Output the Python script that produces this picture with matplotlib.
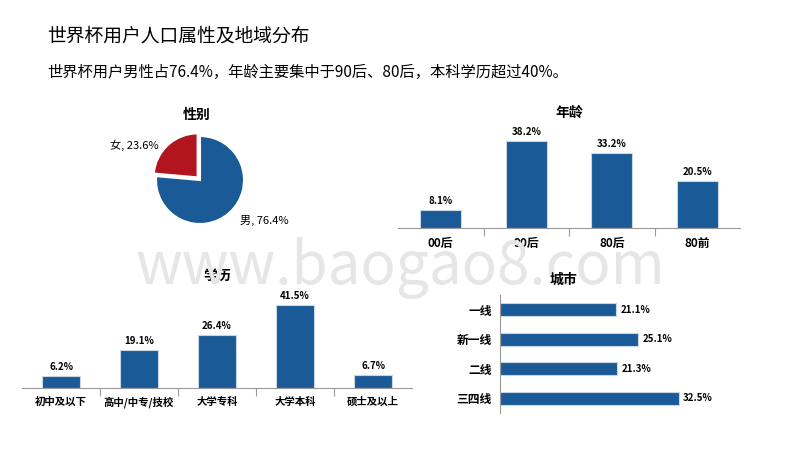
import matplotlib.pyplot as plt
from matplotlib import font_manager

cjk = [f.name for f in font_manager.fontManager.ttflist if 'CJK' in f.name]
plt.rcParams['font.family'] = ['Noto Sans CJK SC', 'Noto Sans CJK JP'] + sorted(set(cjk)) + ['DejaVu Sans']

# data
gender_labels = ['女', '男']
gender_values = [23.6, 76.4]
age_labels = ['00后', '90后', '80后', '80前']
age_values = [8.1, 38.2, 33.2, 20.5]
edu_labels = ['初中及以下', '高中/中专/技校', '大学专科', '大学本科', '硕士及以上']
edu_values = [6.2, 19.1, 26.4, 41.5, 6.7]
city_labels = ['一线', '新一线', '二线', '三四线']
city_values = [21.1, 25.1, 21.3, 32.5]

blue = '#1a5b97'
red = '#b3151e'

fig = plt.figure(figsize=(8, 4.5), dpi=100)
W, H = 800, 450


def ax_px(x0, y0, x1, y1):
    return fig.add_axes([x0 / W, 1 - y1 / H, (x1 - x0) / W, (y1 - y0) / H])


fig.text(47 / W, 1 - 36 / H, '世界杯用户人口属性及地域分布', fontsize=13.5, va='center')
fig.text(47 / W, 1 - 72 / H, '世界杯用户男性占76.4%，年龄主要集中于90后、80后，本科学历超过40%。',
         fontsize=11, va='center')

# watermark
fig.text(0.5, 1 - 268 / H, 'www.baogao8.com', fontsize=42, color='#e6e6e6',
         ha='center', va='center', zorder=0)

# gender pie
ax = ax_px(145, 125, 255, 235)
ax.pie(gender_values, colors=[red, blue], startangle=90, explode=[0.08, 0],
       wedgeprops=dict(edgecolor='white', linewidth=1.5))
ax.set_aspect('equal')
ax.text(-0.95, 0.78, '女, 23.6%', ha='right', va='center', fontsize=8)
ax.text(0.9, -0.92, '男, 76.4%', ha='left', va='center', fontsize=8)
fig.text(197 / W, 1 - 115 / H, '性别', ha='center', va='center', fontsize=10, weight='bold')


def bar_axes(ax, labels, values, title, ymax, labsize):
    x = range(len(labels))
    ax.bar(x, values, width=0.48, color=blue, edgecolor='#c8d6e5', linewidth=0.8)
    for i, v in zip(x, values):
        ax.text(i, v + ymax * 0.04, f'{v}%', ha='center', va='bottom', fontsize=7, weight='bold')
    ax.set_xlim(-0.5, len(labels) - 0.5)
    ax.set_ylim(0, ymax)
    ax.set_yticks([])
    ax.set_xticks([i + 0.5 for i in range(len(labels) - 1)])
    ax.set_xticklabels([])
    ax.tick_params(axis='x', length=6, color='#999999')
    for i, lab in enumerate(labels):
        ax.text(i, -ymax * 0.09, lab, ha='center', va='top', fontsize=labsize, weight='bold')
    for s in ['top', 'left', 'right']:
        ax.spines[s].set_visible(False)
    ax.spines['bottom'].set_color('#999999')
    ax.set_title(title, fontsize=10, weight='bold', pad=8)


ax = ax_px(398, 128, 740, 228)
bar_axes(ax, age_labels, age_values, '年龄', 44, 8.5)

ax = ax_px(22, 292, 412, 388)
bar_axes(ax, edu_labels, edu_values, '学历', 48, 7.5)

# city horizontal bars
ax = ax_px(500, 295, 720, 413)
y = range(len(city_labels))
ax.barh(y, city_values, height=0.45, color=blue, edgecolor='#c8d6e5', linewidth=0.8)
for i, v in zip(y, city_values):
    ax.text(v + 0.8, i, f'{v}%', va='center', fontsize=7, weight='bold')
ax.set_ylim(len(city_labels) - 0.5, -0.5)
ax.set_xlim(0, 40)
ax.set_xticks([])
ax.set_yticks(list(y))
ax.set_yticklabels(city_labels, fontsize=8.5, weight='bold')
ax.tick_params(axis='y', length=0, pad=6)
for s in ['top', 'bottom', 'right']:
    ax.spines[s].set_visible(False)
ax.spines['left'].set_color('#999999')
fig.text(563 / W, 1 - 280 / H, '城市', ha='center', va='center', fontsize=10, weight='bold')

fig.savefig('out.png', dpi=100)
